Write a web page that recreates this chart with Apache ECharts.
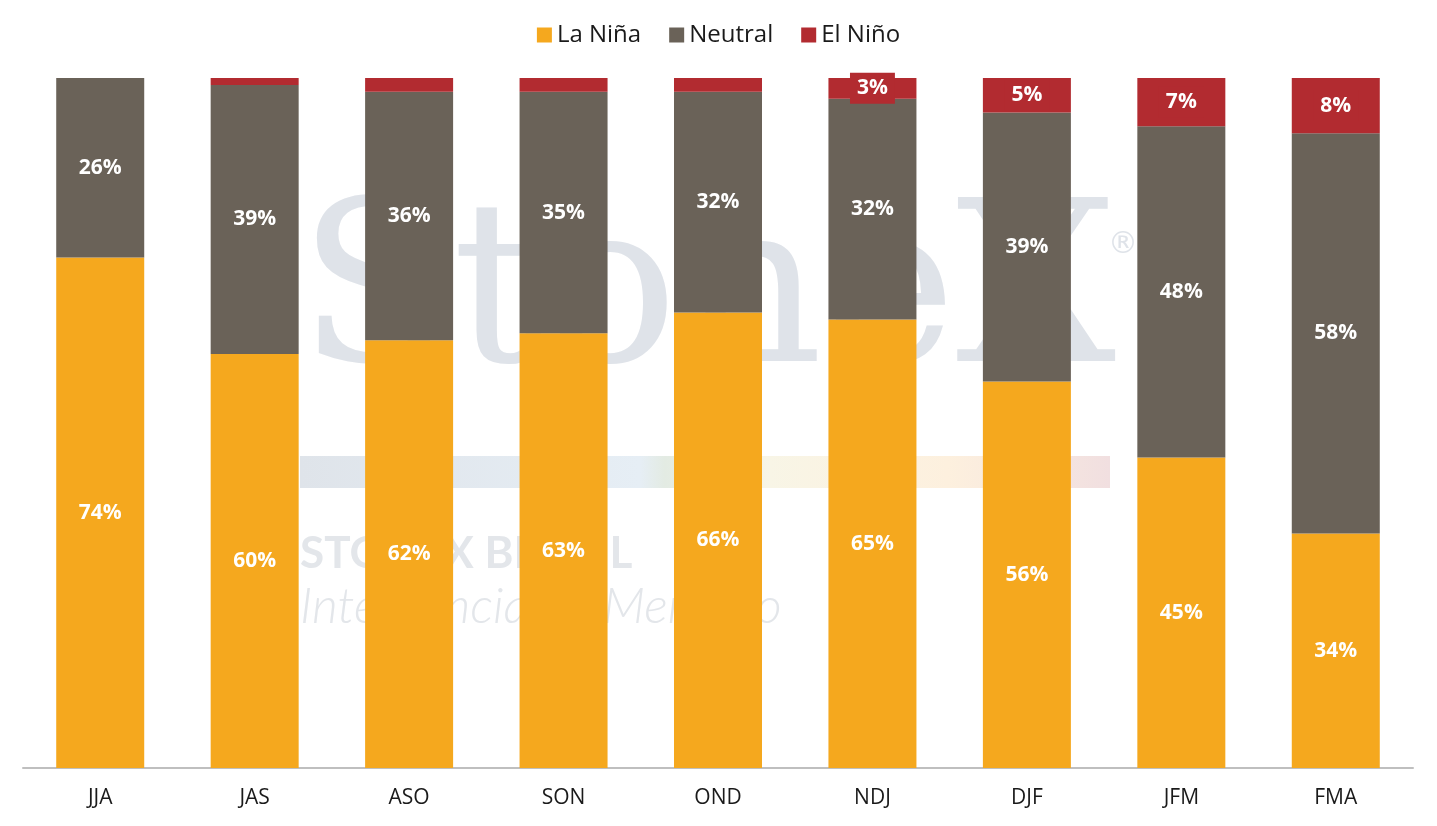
<!DOCTYPE html>
<html>
<head>
<meta charset="utf-8">
<script src="https://cdn.jsdelivr.net/npm/echarts@6/dist/echarts.min.js"></script>
<style>
  html, body { margin: 0; padding: 0; background: #fff; }
  #main { width: 1437px; height: 826px; }
</style>
</head>
<body>
<div id="main"></div>
<script>
// trimestres e probabilidades (%)
var categories = ['JJA', 'JAS', 'ASO', 'SON', 'OND', 'NDJ', 'DJF', 'JFM', 'FMA'];
var laNina  = [74, 60, 62, 63, 66, 65, 56, 45, 34];
var neutral = [26, 39, 36, 35, 32, 32, 39, 48, 58];
var elNino  = [0, 1, 2, 2, 2, 3, 5, 7, 8];

var font = '"Open Sans", "Noto Sans", sans-serif';

var lblStyle = {
    show: true,
    position: 'inside',
    color: '#fff',
    fontWeight: 'bold',
    fontSize: 21,
    fontFamily: font,
    formatter: '{c}%'
};

// rótulos do El Niño só a partir de 3%
var elNinoData = elNino.map(function (v) {
    return { value: v, label: { show: v >= 3 } };
});

var myChart = echarts.init(document.getElementById('main'));
var option = {
    backgroundColor: '#fff',
    animation: false,
    legend: {
        top: 18,
        left: 'center',
        itemWidth: 15,
        itemHeight: 15,
        itemGap: 28,
        icon: 'rect',
        textStyle: { fontSize: 24, color: '#1a1a1a', fontFamily: font },
        data: ['La Niña', 'Neutral', 'El Niño']
    },
    grid: { left: 23, right: 24, top: 78, bottom: 58 },
    graphic: [
        {
            type: 'text', left: 298, top: 190, z: -10, silent: true,
            style: { text: 'StoneX', font: '225px "DejaVu Serif", serif', fill: '#dfe3e9' }
        },
        {
            type: 'text', left: 1108, top: 230, z: -10, silent: true,
            style: { text: '®', font: '30px "DejaVu Sans", sans-serif', fill: '#dfe3e9' }
        },
        {
            type: 'rect', z: -10, silent: true,
            shape: { x: 300, y: 456, width: 810, height: 32 },
            style: {
                fill: new echarts.graphic.LinearGradient(0, 0, 1, 0, [
                    { offset: 0, color: '#dfe4ea' },
                    { offset: 0.42, color: '#e6eef5' },
                    { offset: 0.45, color: '#e3ebe3' },
                    { offset: 0.58, color: '#f8f5e6' },
                    { offset: 0.8, color: '#fdf0de' },
                    { offset: 1, color: '#f1dfe0' }
                ])
            }
        },
        {
            type: 'text', left: 300, top: 532, z: -10, silent: true,
            style: { text: 'STONEX BRASIL', font: 'bold 44px Lato, sans-serif', fill: '#e3e6ea' }
        },
        {
            type: 'text', left: 300, top: 582, z: -10, silent: true,
            style: { text: 'Inteligência de Mercado', font: 'italic 300 50px Lato, sans-serif', fill: '#e3e6ea' }
        }
    ],
    xAxis: {
        type: 'category',
        data: categories,
        axisLine: { lineStyle: { color: '#bfbfbf', width: 2 } },
        axisTick: { show: false },
        axisLabel: { fontSize: 21, color: '#1a1a1a', margin: 20, fontFamily: font }
    },
    yAxis: {
        type: 'value',
        min: 0,
        max: 100,
        show: false,
        splitLine: { show: false }
    },
    series: [
        {
            name: 'La Niña', type: 'bar', stack: 'p', barWidth: 88,
            itemStyle: { color: '#F5A81E' },
            label: lblStyle,
            data: laNina
        },
        {
            name: 'Neutral', type: 'bar', stack: 'p', barWidth: 88,
            itemStyle: { color: '#6A6258' },
            label: lblStyle,
            data: neutral
        },
        {
            name: 'El Niño', type: 'bar', stack: 'p', barWidth: 88,
            itemStyle: { color: '#B22B30' },
            label: {
                position: 'inside',
                color: '#fff',
                fontWeight: 'bold',
                fontSize: 21,
                fontFamily: font,
                backgroundColor: '#B22B30',
                padding: [5, 7],
                formatter: '{c}%'
            },
            data: elNinoData
        }
    ]
};
myChart.setOption(option);
</script>
</body>
</html>
